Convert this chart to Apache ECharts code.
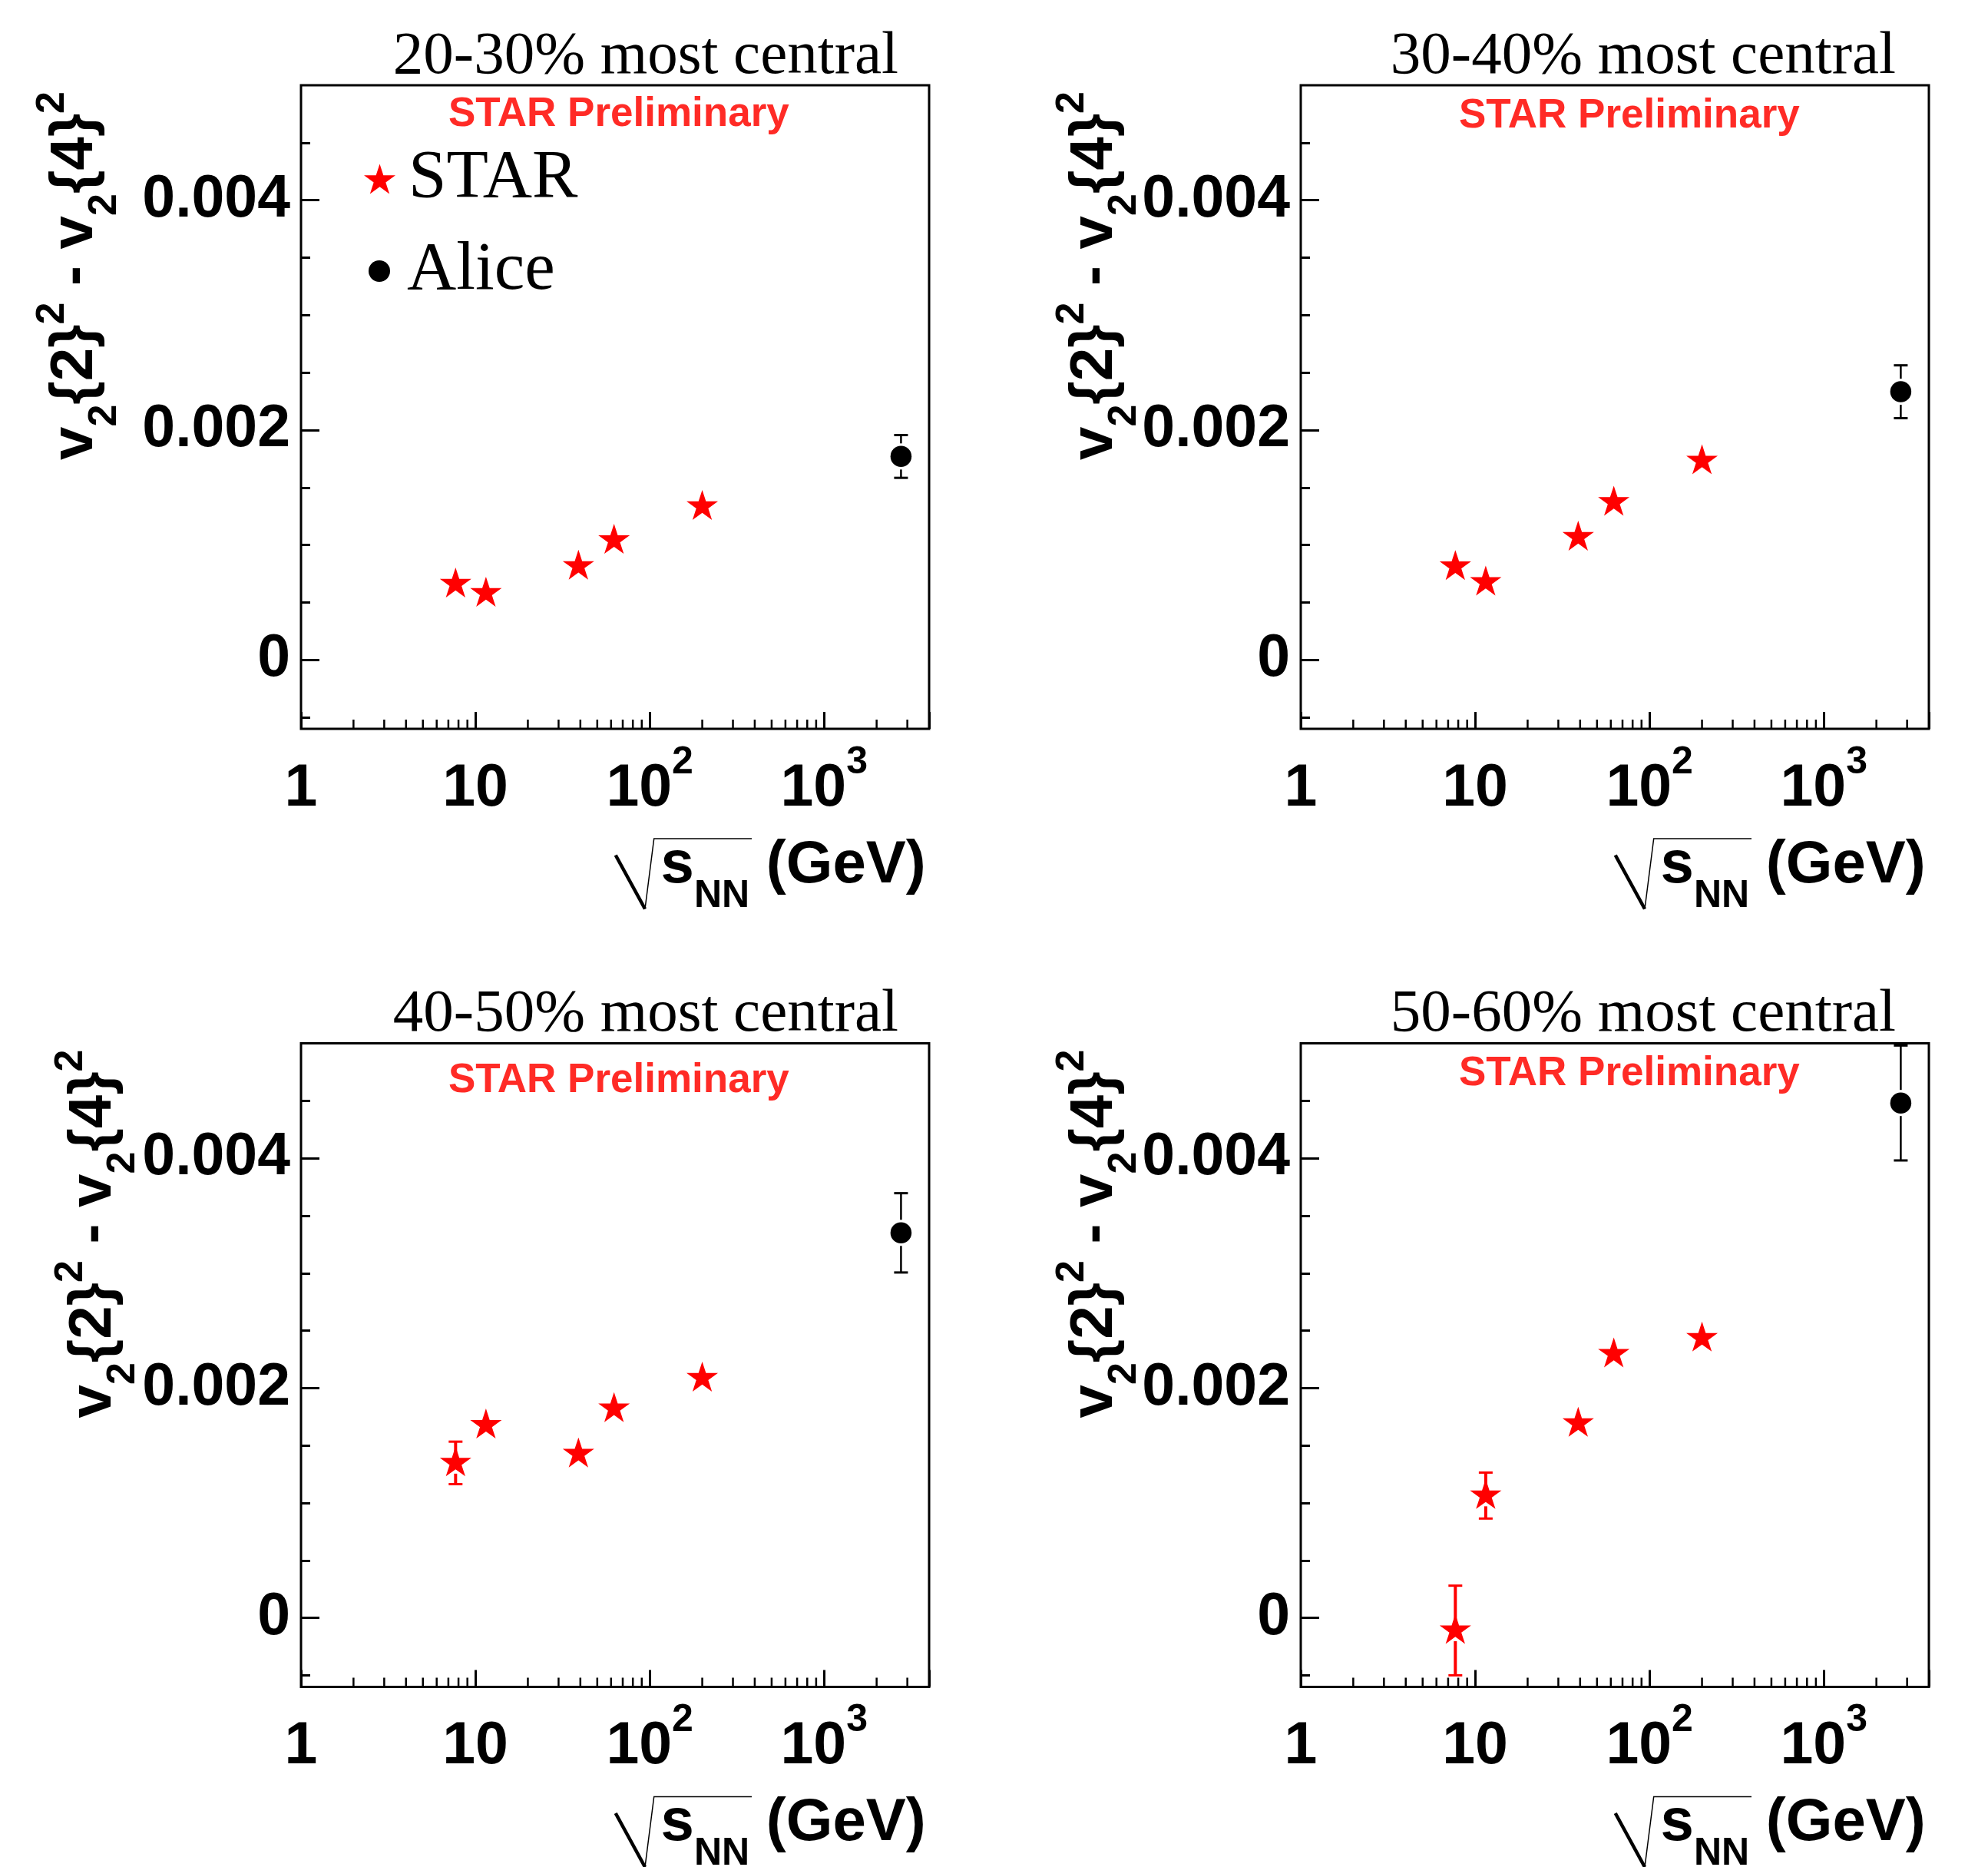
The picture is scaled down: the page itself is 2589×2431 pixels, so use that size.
<!DOCTYPE html>
<html><head><meta charset="utf-8">
<script src="https://cdn.jsdelivr.net/npm/echarts@6/dist/echarts.min.js"></script>
<style>html,body{margin:0;padding:0;background:#fff}#chart{width:2589px;height:2431px}</style>
</head><body><div id="chart"></div>
<script>
// ---------------- data ----------------
const energies = [7.7, 11.5, 39, 62.4, 200];
const aliceEnergy = [2760];
const centralityLabels = ['20-30% most central', '30-40% most central', '40-50% most central', '50-60% most central'];

const star2030 = [0.00066, 0.00058, 0.000815, 0.00104, 0.001335];
const star2030Err = [0, 0, 0, 0, 0];
const star3040 = [0.000812, 0.000676, 0.001068, 0.001372, 0.001732];
const star3040Err = [0, 0, 0, 0, 0];
const star4050 = [0.001349, 0.001678, 0.001427, 0.001821, 0.002087];
const star4050Err = [0.000185, 0, 0, 0, 0];
const star5060 = [-0.000109, 0.001065, 0.001693, 0.002297, 0.002435];
const star5060Err = [0.00039, 0.0002, 0, 0, 0];

const alice2030 = [0.00177];
const alice2030Err = [0.000186];
const alice3040 = [0.002333];
const alice3040Err = [0.00023];
const alice4050 = [0.003351];
const alice4050Err = [0.000345];
const alice5060 = [0.004481];
const alice5060Err = [0.0005];

const xMajorTicks = [1, 10, 100, 1000];
const xTickMantissa = ['1', '10', '10', '10'];
const xTickExponent = ['', '', '2', '3'];
const xMinorTicks = [2, 3, 4, 5, 6, 7, 8, 9, 20, 30, 40, 50, 60, 70, 80, 90, 200, 300, 400, 500, 600, 700, 800, 900, 2000, 3000];
const yMajorTicks = [0, 0.002, 0.004];
const yTickLabels = ['0', '0.002', '0.004'];
const yMinorTicks = [-0.0005, 0.0005, 0.001, 0.0015, 0.0025, 0.003, 0.0035, 0.0045];

const Y_MIN = -0.0006, Y_MAX = 0.005, X_MIN = 1, X_MAX = 4000;

// ---------------- layout ----------------
const starSets = [star2030, star3040, star4050, star5060];
const starErrSets = [star2030Err, star3040Err, star4050Err, star5060Err];
const aliceSets = [alice2030, alice3040, alice4050, alice5060];
const aliceErrSets = [alice2030Err, alice3040Err, alice4050Err, alice5060Err];

const W = 818, H = 838;
const panels = [
  {left: 392, top: 111, titleRight: 40, prelimX: 194, prelimY: 38, yTitleDX: -294},
  {left: 1694, top: 111, titleRight: 43, prelimX: 208, prelimY: 40, yTitleDX: -268},
  {left: 392, top: 1358.5, titleRight: 40, prelimX: 194, prelimY: 49, yTitleDX: -270},
  {left: 1694, top: 1358.5, titleRight: 43, prelimX: 208, prelimY: 40, yTitleDX: -268}
];

const STAR_PATH = 'path://M0,-100 L22.45,-30.9 L95.11,-30.9 L36.33,11.8 L58.78,80.9 L0,38.2 L-58.78,80.9 L-36.33,11.8 L-95.11,-30.9 L-22.45,-30.9 Z';
const SANS = '"Liberation Sans", Arial, Helvetica, sans-serif';
const SERIF = '"Liberation Serif", "Times New Roman", serif';

function xLabelFormatter(v) {
  for (let i = 0; i < xMajorTicks.length; i++) {
    if (Math.abs(v - xMajorTicks[i]) < 1e-6 * xMajorTicks[i]) {
      return '{n|' + xTickMantissa[i] + '}' + (xTickExponent[i] ? '{s|' + xTickExponent[i] + '}' : '');
    }
  }
  return '';
}
function yLabelFormatter(v) {
  for (let i = 0; i < yMajorTicks.length; i++) {
    if (Math.abs(v - yMajorTicks[i]) < 1e-9) return yTickLabels[i];
  }
  return '';
}

function errorBarRender(color, lw, gap) {
  return function (params, api) {
    const x = api.value(0), y = api.value(1), e = api.value(2);
    if (!(e > 0)) return null;
    const c = api.coord([x, y]);
    const t = api.coord([x, y + e]);
    const b = api.coord([x, y - e]);
    const cap = 18;
    const st = {stroke: color, lineWidth: lw};
    const children = [];
    if (c[1] - gap > t[1]) children.push({type: 'line', shape: {x1: c[0], y1: t[1], x2: c[0], y2: c[1] - gap}, style: st});
    if (c[1] + gap < b[1]) children.push({type: 'line', shape: {x1: c[0], y1: c[1] + gap, x2: c[0], y2: b[1]}, style: st});
    children.push({type: 'line', shape: {x1: c[0] - cap / 2, y1: t[1], x2: c[0] + cap / 2, y2: t[1]}, style: {stroke: color, lineWidth: 3}});
    children.push({type: 'line', shape: {x1: c[0] - cap / 2, y1: b[1], x2: c[0] + cap / 2, y2: b[1]}, style: {stroke: color, lineWidth: 3}});
    return {type: 'group', children: children};
  };
}

const grids = [], xAxes = [], yAxes = [], series = [], graphics = [];
panels.forEach((p, i) => {
  grids.push({left: p.left, top: p.top, width: W, height: H, show: true, borderColor: '#000', borderWidth: 3,
    backgroundColor: 'transparent', containLabel: false, outerBoundsMode: 'none'});
  xAxes.push({
    gridIndex: i, type: 'log', logBase: 10, min: X_MIN, max: X_MAX, position: 'bottom',
    axisLine: {show: false, onZero: false},
    axisTick: {show: true, inside: true, length: 22, lineStyle: {color: '#000', width: 3}},
    splitLine: {show: false}, minorTick: {show: false}, minorSplitLine: {show: false},
    axisLabel: {
      show: true, margin: 19, formatter: xLabelFormatter, color: '#000',
      showMinLabel: true, showMaxLabel: true, hideOverlap: false,
      rich: {
        n: {fontSize: 77, fontWeight: 'bold', fontFamily: SANS, color: '#000', lineHeight: 98, verticalAlign: 'bottom'},
        s: {fontSize: 50, fontWeight: 'bold', fontFamily: SANS, color: '#000', lineHeight: 50, verticalAlign: 'top'}
      }
    }
  });
  yAxes.push({
    gridIndex: i, type: 'value', min: Y_MIN, max: Y_MAX, position: 'left', offset: 0,
    axisLine: {show: false, onZero: false}, splitLine: {show: false},
    axisTick: {show: true, inside: true, length: 24, lineStyle: {color: '#000', width: 3}, customValues: yMajorTicks},
    axisLabel: {show: true, margin: 14, customValues: yMajorTicks, formatter: yLabelFormatter,
      fontSize: 77, fontWeight: 'bold', fontFamily: SANS, color: '#000', showMinLabel: true, showMaxLabel: true}
  });
  yAxes.push({
    gridIndex: i, type: 'value', min: Y_MIN, max: Y_MAX, position: 'left', offset: 0,
    axisLine: {show: false, onZero: false}, splitLine: {show: false},
    axisTick: {show: true, inside: true, length: 12, lineStyle: {color: '#000', width: 3}, customValues: yMinorTicks},
    axisLabel: {show: false}
  });

  // minor x ticks (log positions via the axis scale)
  series.push({
    type: 'custom', name: 'xminor' + i, xAxisIndex: i, yAxisIndex: 2 * i, silent: true, z: 3,
    data: xMinorTicks.map(v => [v, Y_MIN]),
    renderItem: function (params, api) {
      const pt = api.coord([api.value(0), Y_MIN]);
      return {type: 'line', shape: {x1: pt[0], y1: pt[1], x2: pt[0], y2: pt[1] - 12}, style: {stroke: '#000', lineWidth: 2.5}};
    }
  });
  // error bars
  series.push({
    type: 'custom', name: 'STAR err ' + i, xAxisIndex: i, yAxisIndex: 2 * i, silent: true, z: 4,
    data: energies.map((e, k) => [e, starSets[i][k], starErrSets[i][k]]),
    renderItem: errorBarRender('#ff0000', 4, 14)
  });
  series.push({
    type: 'custom', name: 'Alice err ' + i, xAxisIndex: i, yAxisIndex: 2 * i, silent: true, z: 4,
    data: aliceEnergy.map((e, k) => [e, aliceSets[i][k], aliceErrSets[i][k]]),
    renderItem: errorBarRender('#000000', 2.5, 17)
  });
  series.push({
    type: 'scatter', name: 'STAR', xAxisIndex: i, yAxisIndex: 2 * i, z: 5,
    data: energies.map((e, k) => [e, starSets[i][k]]),
    symbol: STAR_PATH, symbolSize: [41, 39], symbolOffset: [0, -2], symbolKeepAspect: false,
    itemStyle: {color: '#ff0000', opacity: 1}, emphasis: {disabled: true}
  });
  series.push({
    type: 'scatter', name: 'Alice', xAxisIndex: i, yAxisIndex: 2 * i, z: 5,
    data: aliceEnergy.map((e, k) => [e, aliceSets[i][k]]),
    symbol: 'circle', symbolSize: 27.5, itemStyle: {color: '#000000', opacity: 1}, emphasis: {disabled: true}
  });

  // panel title
  graphics.push({type: 'text', x: p.left + W - p.titleRight, y: p.top - 37, silent: true,
    style: {text: centralityLabels[i], fontSize: 79, fontFamily: SERIF, fontWeight: 'normal',
      font: 'normal 79px ' + SERIF, fill: '#000', align: 'right', textAlign: 'right', verticalAlign: 'middle', textVerticalAlign: 'middle'}});
  // STAR Preliminary
  graphics.push({type: 'text', x: p.left + p.prelimX - 2, y: p.top + p.prelimY, silent: true,
    style: {text: 'STAR Preliminary', fontSize: 53, fontFamily: SANS, fontWeight: 'bold',
      font: 'bold 53px ' + SANS, fill: '#ff2b26', align: 'left', textAlign: 'left', verticalAlign: 'middle', textVerticalAlign: 'middle'}});
  // y axis title (rotated)
  graphics.push({type: 'text', x: p.left + p.yTitleDX, y: p.top + 488, rotation: Math.PI / 2, silent: true,
    style: {
      text: 'v{b|2}{2}{p|2} - v{b|2}{4}{p|2}',
      fontSize: 78, fontFamily: SANS, fontWeight: 'bold', font: 'bold 78px ' + SANS, lineHeight: 150,
      fill: '#000', align: 'left', textAlign: 'left', verticalAlign: 'middle', textVerticalAlign: 'middle',
      rich: {
        b: {fontSize: 52, fontFamily: SANS, fontWeight: 'bold', font: 'bold 52px ' + SANS, lineHeight: 104, verticalAlign: 'bottom', padding: [0, 0, 10, 0], fill: '#000'},
        p: {fontSize: 52, fontFamily: SANS, fontWeight: 'bold', font: 'bold 52px ' + SANS, lineHeight: 144, verticalAlign: 'top', padding: [20, 0, 0, 0], fill: '#000'}
      }
    }});
  // x axis title: sqrt(s_NN) (GeV)
  const bx = p.left, by = p.top + H; // bottom-left corner of frame
  graphics.push({type: 'text', x: bx + 468.5, y: by + 178, silent: true,
    style: {
      text: 's{b|NN} (GeV)',
      fontSize: 78, fontFamily: SANS, fontWeight: 'bold', font: 'bold 78px ' + SANS, lineHeight: 130,
      fill: '#000', align: 'left', textAlign: 'left', verticalAlign: 'middle', textVerticalAlign: 'middle',
      rich: {
        b: {fontSize: 50, fontFamily: SANS, fontWeight: 'bold', font: 'bold 50px ' + SANS, lineHeight: 52, verticalAlign: 'bottom', fill: '#000'}
      }
    }});
  graphics.push({type: 'line', silent: true,
    shape: {x1: bx + 409.7, y1: by + 164.5, x2: bx + 448, y2: by + 234.5},
    style: {stroke: '#000', lineWidth: 4.5}});
  graphics.push({type: 'polyline', silent: true,
    shape: {points: [[bx + 448, by + 234.5], [bx + 459.7, by + 143], [bx + 587, by + 143]]},
    style: {stroke: '#000', lineWidth: 1.5, fill: null}});
});

const option = {
  animation: false,
  backgroundColor: '#ffffff',
  grid: grids,
  xAxis: xAxes,
  yAxis: yAxes,
  series: series,
  legend: [
    {data: [{name: 'STAR', icon: STAR_PATH}], left: 469, top: 183.4, itemWidth: 41, itemHeight: 39,
      selectedMode: false, padding: 5, orient: 'vertical', itemStyle: {opacity: 1},
      textStyle: {fontFamily: SERIF, fontSize: 89, fontWeight: 'normal', color: '#000', lineHeight: 39, padding: [0, 0, 0, 12]}},
    {data: [{name: 'Alice', icon: 'circle'}], left: 475, top: 303.5, itemWidth: 28, itemHeight: 28,
      selectedMode: false, padding: 5, orient: 'vertical', itemStyle: {opacity: 1},
      textStyle: {fontFamily: SERIF, fontSize: 89, fontWeight: 'normal', color: '#000', lineHeight: 28, padding: [0, 0, 0, 17]}}
  ],
  graphic: {elements: graphics}
};

const chart = echarts.init(document.getElementById('chart'), null, {renderer: 'canvas'});
chart.setOption(option);
</script>
</body></html>
